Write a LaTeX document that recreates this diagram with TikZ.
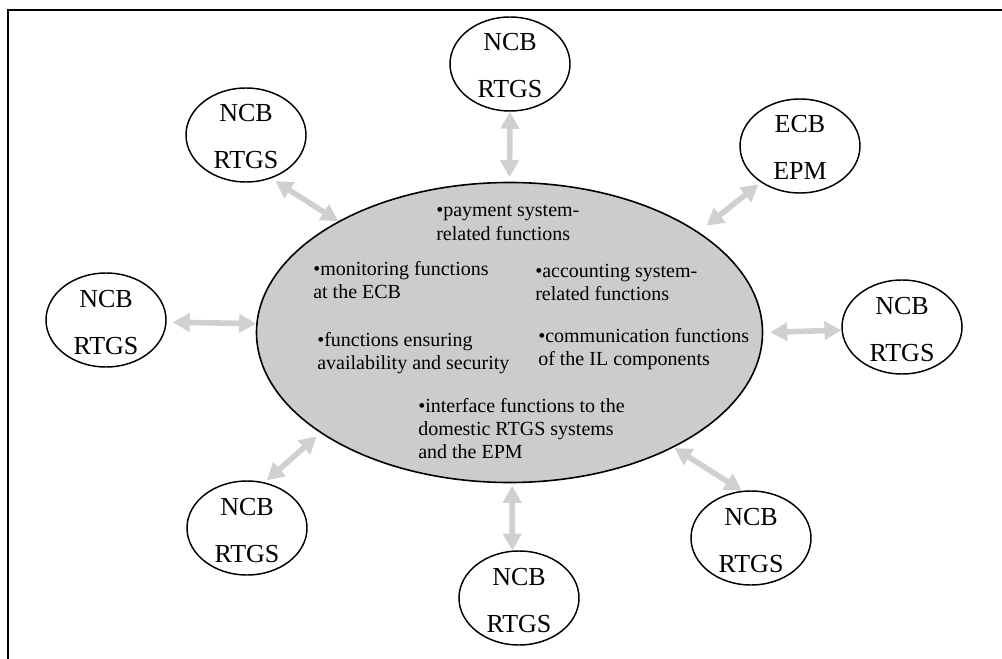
\documentclass[tikz,border=0pt]{standalone}
\usepackage{fontspec}
\setmainfont{Liberation Serif}
\usetikzlibrary{shapes.geometric,arrows.meta,calc}
\newlength\px \setlength\px{0.75pt}
\definecolor{fillgray}{RGB}{204,204,204}
\definecolor{arrgray}{RGB}{208,208,208}
\begin{document}
\begin{tikzpicture}[x=0.75pt,y=-0.75pt,
  smallnode/.style={ellipse, draw, line width=1.1pt, minimum width=120\px, minimum height=94\px, inner sep=0pt},
  bignode/.style={ellipse, draw, fill=fillgray, line width=1.2pt, minimum width=506\px, minimum height=300\px, inner sep=0pt},
  nlabel/.style={font=\fontsize{19.5}{22}\selectfont, inner sep=0pt, anchor=base},
  item/.style={font=\fontsize{15}{17}\selectfont, inner sep=0pt, anchor=base west},
  link/.style={draw=arrgray, line width=4.2pt, {Triangle[length=12.75pt,width=13.5pt]}-{Triangle[length=12.75pt,width=13.5pt]}}
]
\useasboundingbox (0,0) rectangle (1002,659);
% frame (top and left edges visible)
\draw[line width=1.6pt] (8,665) -- (8,10) -- (1010,10);

% central ellipse
\node[bignode] (main) at (509.5,332.5) {};

% outer nodes
\node[smallnode] (nT)  at (510,64)  {};
\node[smallnode] (nUL) at (246,135) {};
\node[smallnode] (eE)  at (800,146) {};
\node[smallnode] (nL)  at (106,320) {};
\node[smallnode] (nR)  at (902,327) {};
\node[smallnode] (nLL) at (247,528) {};
\node[smallnode] (nB)  at (519,598) {};
\node[smallnode] (nLR) at (751,538) {};

% labels of outer nodes
\node[nlabel] (nTa)  at ($(nT)+(0,-13)$)  {NCB};
\node[nlabel] (nTb)  at ($(nT)+(0,34)$)   {RTGS};
\node[nlabel] (nULa) at ($(nUL)+(0,-13)$) {NCB};
\node[nlabel] (nULb) at ($(nUL)+(0,34)$)  {RTGS};
\node[nlabel] (eEa)  at ($(eE)+(0,-13)$)  {ECB};
\node[nlabel] (eEb)  at ($(eE)+(0,34)$)   {EPM};
\node[nlabel] (nLa)  at ($(nL)+(0,-13)$)  {NCB};
\node[nlabel] (nLb)  at ($(nL)+(0,34)$)   {RTGS};
\node[nlabel] (nRa)  at ($(nR)+(0,-13)$)  {NCB};
\node[nlabel] (nRb)  at ($(nR)+(0,34)$)   {RTGS};
\node[nlabel] (nLLa) at ($(nLL)+(0,-13)$) {NCB};
\node[nlabel] (nLLb) at ($(nLL)+(0,34)$)  {RTGS};
\node[nlabel] (nBa)  at ($(nB)+(0,-13)$)  {NCB};
\node[nlabel] (nBb)  at ($(nB)+(0,34)$)   {RTGS};
\node[nlabel] (nLRa) at ($(nLR)+(0,-13)$) {NCB};
\node[nlabel] (nLRb) at ($(nLR)+(0,34)$)  {RTGS};

% text inside the central ellipse
\node[item] (t1a) at (436,217) {•payment system-};
\node[item] (t1b) at (436,240) {related functions};
\node[item] (t2a) at (313,275) {•monitoring functions};
\node[item] (t2b) at (313,298) {at the ECB};
\node[item] (t3a) at (535,277) {•accounting system-};
\node[item] (t3b) at (535,300) {related functions};
\node[item] (t4a) at (317,346) {•functions ensuring};
\node[item] (t4b) at (317,369) {availability and security};
\node[item] (t5a) at (538,342) {•communication functions};
\node[item] (t5b) at (538,365) {of the IL components};
\node[item] (t6a) at (418,412) {•interface functions to the};
\node[item] (t6b) at (418,435) {domestic RTGS systems};
\node[item] (t6c) at (418,458) {and the EPM};

% connectors
\draw[link, shorten >=4.5\px] (nT.south) -- (main.north);
\draw[link, shorten <=5\px] (nUL.-60) -- (main.147);
\draw[link, shorten <=3\px, shorten >=10\px] (eE.-137) -- (main.28);
\draw[link, shorten <=6\px] (nL.-2) -- (main.178);
\draw[link, shorten >=7\px] (nR.183) -- (main.0);
\draw[link, shorten <=3\px, shorten >=5\px] (nLL.69) -- (main.-152);
\draw[link, shorten >=2.5\px] (nB.98) -- (main.-89);
\draw[link, shorten >=1\px] (nLR.101) -- (main.-35);
\end{tikzpicture}
\end{document}
